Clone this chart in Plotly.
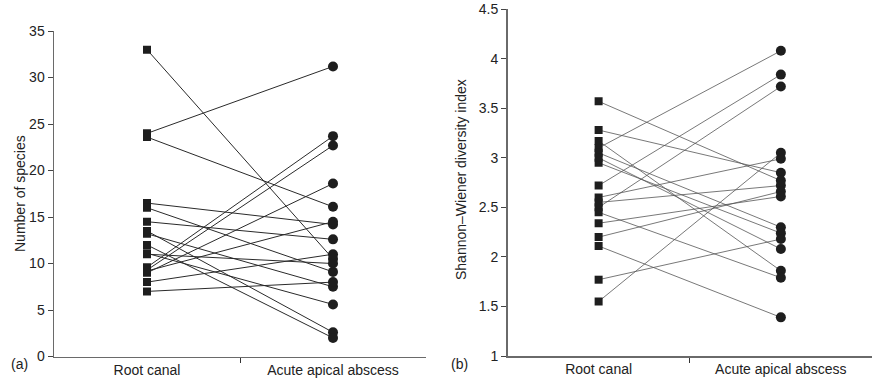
import plotly.graph_objects as go

categories = ["Root canal", "Acute apical abscess"]

# Panel (a): number of species, paired samples
species_root = [33, 24, 23.6, 16.5, 16, 14.5, 13.5, 13.2, 12, 11, 9.6, 9.3, 9.0, 9.2, 8, 7, 11.1]
species_abscess = [10.5, 31.2, 16.1, 14.2, 9.1, 12.6, 2.6, 7.5, 2.0, 10.0, 23.7, 22.7, 18.6, 14.5, 11.0, 8.0, 5.6]

# Panel (b): Shannon-Wiener diversity index, paired samples
shannon_root = [3.1, 2.72, 2.5, 1.55, 2.6, 3.28, 3.57, 2.55, 2.20, 2.34, 3.05, 2.95, 1.77, 3.0, 3.17, 2.45, 2.11]
shannon_abscess = [4.08, 3.84, 3.72, 3.05, 2.99, 2.85, 2.77, 2.72, 2.66, 2.61, 2.30, 2.24, 2.18, 2.08, 1.86, 1.79, 1.39]

species_ticks = [0, 5, 10, 15, 20, 25, 30, 35]
shannon_ticks = [1, 1.5, 2, 2.5, 3, 3.5, 4, 4.5]
shannon_ticktext = ["1", "1.5", "2", "2.5", "3", "3.5", "4", "4.5"]

FONT = "Liberation Sans, Arial, sans-serif"
FS = 14
DARK = "#1e1e1e"
AXIS = "#6a6a6a"


def pair_lines(a, b):
    xs, ys = [], []
    for va, vb in zip(a, b):
        xs += [0, 1, None]
        ys += [va, vb, None]
    return xs, ys


fig = go.Figure()

for (root, absc, xa, ya, lw, lc, sq, ci) in [
    (species_root, species_abscess, "x", "y", 1.0, "#2a2a2a", 8, 10),
    (shannon_root, shannon_abscess, "x2", "y2", 0.8, "#555555", 8, 10),
]:
    lx, ly = pair_lines(root, absc)
    fig.add_trace(go.Scatter(x=lx, y=ly, mode="lines", xaxis=xa, yaxis=ya,
                             line=dict(color=lc, width=lw), hoverinfo="skip",
                             showlegend=False))
    fig.add_trace(go.Scatter(x=[0] * len(root), y=root, mode="markers",
                             xaxis=xa, yaxis=ya,
                             marker=dict(symbol="square", size=sq, color=DARK),
                             showlegend=False))
    fig.add_trace(go.Scatter(x=[1] * len(absc), y=absc, mode="markers",
                             xaxis=xa, yaxis=ya,
                             marker=dict(symbol="circle", size=ci, color=DARK),
                             showlegend=False))

xcommon = dict(range=[-0.5, 1.5], showgrid=False, zeroline=False,
               showline=True, linecolor=AXIS, linewidth=1.5,
               tickvals=[0, 1], ticktext=categories, ticks="",
               tickfont=dict(family=FONT, size=FS, color="#222"),
               minor=dict(tickvals=[0.5], ticks="outside", ticklen=5,
                          tickwidth=1, tickcolor="#333"),
               automargin=False, fixedrange=True)

ycommon = dict(showgrid=False, zeroline=False,
               showline=True, linecolor=AXIS, linewidth=1.5,
               ticks="outside", ticklen=5, tickwidth=1, tickcolor="#444",
               tickfont=dict(family=FONT, size=FS, color="#222"),
               ticklabeloverflow="allow",
               automargin=False, fixedrange=True)

fig.update_layout(
    width=873, height=382,
    margin=dict(l=0, r=0, t=0, b=0),
    paper_bgcolor="white", plot_bgcolor="white",
    font=dict(family=FONT, size=FS, color="#222"),
    xaxis=dict(domain=[54 / 873, 426 / 873], anchor="y", **xcommon),
    xaxis2=dict(domain=[507.5 / 873, 872 / 873], anchor="y2", **xcommon),
    yaxis=dict(domain=[25.5 / 382, 351 / 382], anchor="x", range=[0, 35.01],
               tickvals=species_ticks, **ycommon),
    yaxis2=dict(domain=[26 / 382, 373 / 382], anchor="x2", range=[1, 4.502],
                tickvals=shannon_ticks, ticktext=shannon_ticktext, **ycommon),
    annotations=[
        dict(text="Number of species", x=10 / 873, y=1 - 194 / 382, xref="paper",
             yref="paper", textangle=-90, showarrow=False,
             font=dict(family=FONT, size=FS, color="#222")),
        dict(text="Shannon–Wiener diversity index", x=461 / 873, y=1 - 180 / 382,
             xref="paper", yref="paper", textangle=-90, showarrow=False,
             font=dict(family=FONT, size=FS, color="#222")),
        dict(text="(a)", x=9 / 873, y=1 - 374 / 382, xref="paper", yref="paper",
             showarrow=False, font=dict(family=FONT, size=FS, color="#222")),
        dict(text="(b)", x=459 / 873, y=1 - 374 / 382, xref="paper", yref="paper",
             showarrow=False, font=dict(family=FONT, size=FS, color="#222")),
    ],
)

fig.write_html(
    "out.html",
    config={"displayModeBar": False, "staticPlot": True},
    post_script="document.body.style.margin='0';document.body.style.overflow='hidden';",
)
